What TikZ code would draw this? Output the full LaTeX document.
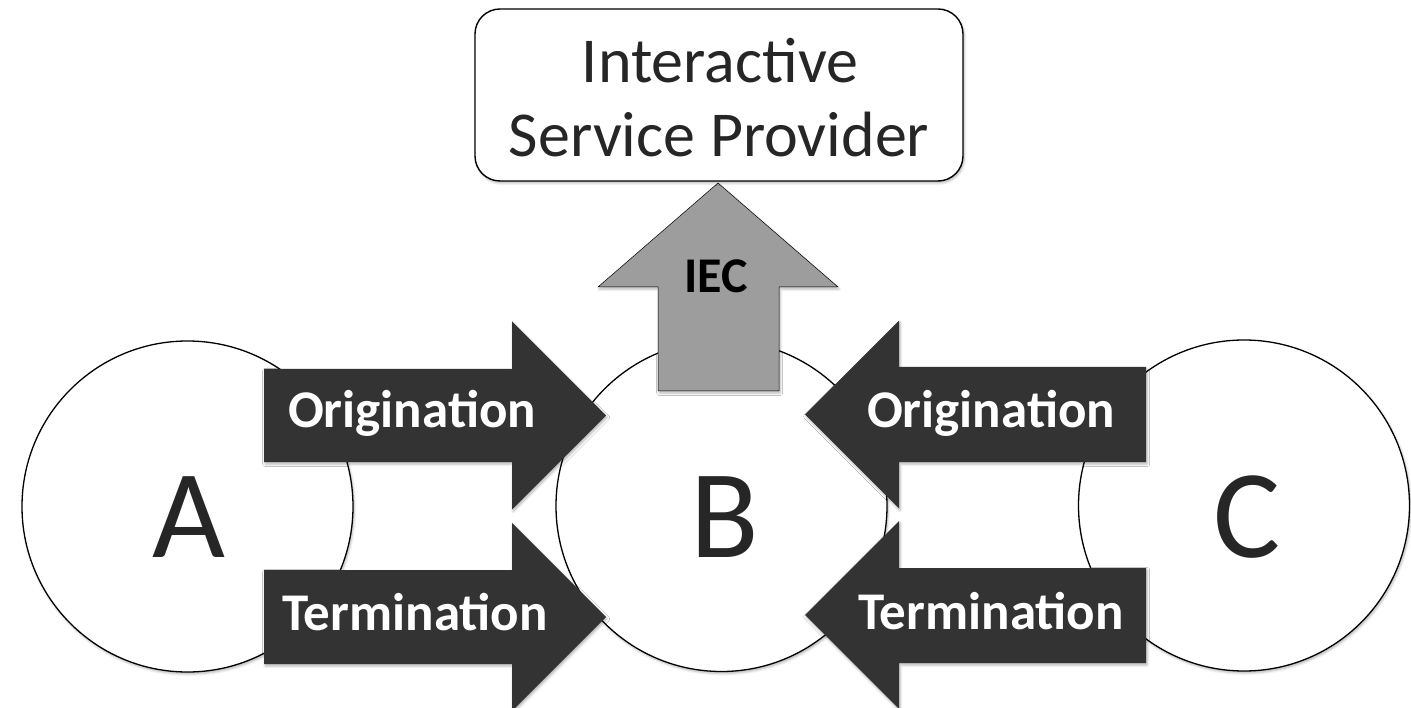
\documentclass[tikz,border=0pt]{standalone}
\usepackage{fontspec}
\setmainfont{Carlito}
\usetikzlibrary{shadows.blur}
\definecolor{arrowdark}{HTML}{333333}
\definecolor{iecgray}{HTML}{9D9D9D}
\definecolor{inkgray}{HTML}{262626}
\begin{document}
\begin{tikzpicture}[x=1pt,y=-1pt,
  softshadow/.style={blur shadow={shadow xshift=1.2pt, shadow yshift=-2pt,
      shadow blur radius=2.5pt, shadow opacity=30}},
  party/.style={circle, draw=black, line width=1.3pt, fill=white,
      minimum size=331pt, inner sep=0pt, softshadow},
  bigletter/.style={anchor=base, text=inkgray, inner sep=0pt,
      font=\fontsize{126}{126}\selectfont},
  flowarrow/.style={fill=arrowdark, draw=none, softshadow},
  flowlabel/.style={anchor=base, text=white, inner sep=0pt,
      font=\bfseries\fontsize{53}{53}\selectfont},
  iecarrow/.style={fill=iecgray, draw=black, line width=0.5pt, softshadow},
  ispbox/.style={draw=black, line width=1.4pt, fill=white, rounded corners=25pt,
      minimum width=488pt, minimum height=172pt, inner sep=0pt, softshadow},
  isptext/.style={anchor=base, text=inkgray, inner sep=0pt,
      font=\fontsize{64}{64}\selectfont}
]
\useasboundingbox (0,0) rectangle (1411,708);
\clip (0,0) rectangle (1411,708);

% the three parties
\node[party] (A) at (187.5,506.5) {};
\node[party] (B) at (721.5,506) {};
\node[party] (C) at (1244,505.5) {};
\node[bigletter] (Atext) at (189,557) {A};
\node[bigletter] (Btext) at (725,557) {B};
\node[bigletter] (Ctext) at (1247,557) {C};

% A -> B flows
\path[flowarrow] (264,369) -- (512,369) -- (512,321.5) -- (606,415.5)
  -- (512,509.5) -- (512,462) -- (264,462) -- cycle;
\path[flowarrow] (264,570) -- (512,570) -- (512,523) -- (606,617)
  -- (512,711) -- (512,664) -- (264,664) -- cycle;

% C -> B flows
\path[flowarrow] (1146,367) -- (899,367) -- (899,320.5) -- (805,414.5)
  -- (899,508.5) -- (899,462) -- (1146,462) -- cycle;
\path[flowarrow] (1146,568) -- (899,568) -- (899,521) -- (805,615)
  -- (899,709) -- (899,663) -- (1146,663) -- cycle;

% B -> provider
\path[iecarrow] (658,391) -- (658,287) -- (598,287) -- (718,183)
  -- (838,287) -- (779,287) -- (779,391) -- cycle;

% provider box
\node[ispbox] (isp) at (719,95) {};
\node[isptext] (isp1) at (720,83) {Interactive};
\node[isptext] (isp2) at (719,157) {Service Provider};

% arrow labels
\node[flowlabel] (origAB) at (412,428) {Origination};
\node[flowlabel] (termAB) at (415,630) {Termination};
\node[flowlabel] (origCB) at (991,428) {Origination};
\node[flowlabel] (termCB) at (991,629) {Termination};
\node[anchor=base, inner sep=0pt, text=black,
  font=\bfseries\fontsize{50}{50}\selectfont] (iec) at (716,293) {IEC};
\end{tikzpicture}
\end{document}
